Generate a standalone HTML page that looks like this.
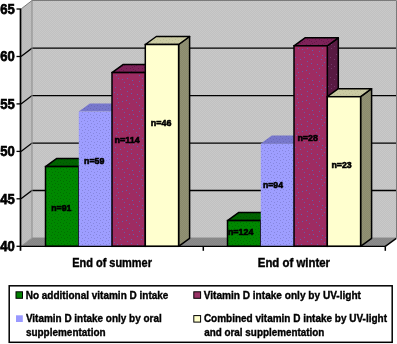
<!DOCTYPE html><html><head><meta charset="utf-8"><style>html,body{margin:0;padding:0;background:#fff;width:397px;height:344px;overflow:hidden}svg{display:block;will-change:transform}text{font-family:"Liberation Sans",sans-serif;font-weight:bold;fill:#000}</style></head><body>
<svg width="397" height="344" viewBox="0 0 397 344"><defs><pattern id="wall" width="2" height="2" patternUnits="userSpaceOnUse"><rect width="2" height="2" fill="#c1c1c1"/><rect x="0" y="0" width="1" height="1" fill="#c9c9c9"/><rect x="1" y="1" width="1" height="1" fill="#c9c9c9"/></pattern><pattern id="swall" width="2" height="2" patternUnits="userSpaceOnUse"><rect width="2" height="2" fill="#b9b9b9"/><rect x="0" y="0" width="1" height="1" fill="#c0c0c0"/><rect x="1" y="1" width="1" height="1" fill="#c0c0c0"/></pattern><pattern id="floor" width="2" height="2" patternUnits="userSpaceOnUse"><rect width="2" height="2" fill="#858585"/><rect x="0" y="0" width="1" height="1" fill="#8c8c8c"/><rect x="1" y="1" width="1" height="1" fill="#8c8c8c"/></pattern><pattern id="pg" width="6" height="6" patternUnits="userSpaceOnUse"><rect width="6" height="6" fill="#008800"/><rect x="0" y="0" width="1" height="1" fill="#007000"/><rect x="3" y="1" width="1" height="1" fill="#007000"/><rect x="1" y="3" width="1" height="1" fill="#007000"/><rect x="4" y="4" width="1" height="1" fill="#007000"/></pattern><pattern id="pgt" width="6" height="6" patternUnits="userSpaceOnUse"><rect width="6" height="6" fill="#006400"/><rect x="0" y="0" width="1" height="1" fill="#005400"/><rect x="3" y="1" width="1" height="1" fill="#005400"/><rect x="1" y="3" width="1" height="1" fill="#005400"/><rect x="4" y="4" width="1" height="1" fill="#005400"/></pattern><pattern id="pr" width="30" height="30" patternUnits="userSpaceOnUse"><rect width="30" height="30" fill="#9e2c62"/><rect x="7" y="18" width="1" height="1" fill="#6060ac"/><rect x="17" y="4" width="1" height="1" fill="#6060ac"/><rect x="11" y="29" width="1" height="1" fill="#6060ac"/><rect x="19" y="15" width="1" height="1" fill="#6060ac"/><rect x="2" y="19" width="1" height="1" fill="#6060ac"/><rect x="0" y="29" width="1" height="1" fill="#6060ac"/><rect x="26" y="15" width="1" height="1" fill="#6060ac"/><rect x="7" y="6" width="1" height="1" fill="#6060ac"/><rect x="17" y="26" width="1" height="1" fill="#6060ac"/><rect x="12" y="20" width="1" height="1" fill="#6060ac"/><rect x="27" y="4" width="1" height="1" fill="#6060ac"/><rect x="4" y="27" width="1" height="1" fill="#6060ac"/><rect x="24" y="2" width="1" height="1" fill="#6060ac"/><rect x="9" y="24" width="1" height="1" fill="#6060ac"/><rect x="27" y="8" width="1" height="1" fill="#6060ac"/><rect x="28" y="12" width="1" height="1" fill="#6060ac"/><rect x="22" y="25" width="1" height="1" fill="#6060ac"/><rect x="11" y="3" width="1" height="1" fill="#6060ac"/><rect x="1" y="4" width="1" height="1" fill="#6060ac"/><rect x="13" y="24" width="1" height="1" fill="#6060ac"/><rect x="9" y="13" width="1" height="1" fill="#6060ac"/><rect x="21" y="29" width="1" height="1" fill="#6060ac"/><rect x="19" y="21" width="1" height="1" fill="#6060ac"/><rect x="22" y="5" width="1" height="1" fill="#6060ac"/><rect x="28" y="18" width="1" height="1" fill="#6060ac"/><rect x="2" y="11" width="1" height="1" fill="#6060ac"/><rect x="22" y="18" width="1" height="1" fill="#6060ac"/><rect x="7" y="1" width="1" height="1" fill="#6060ac"/><rect x="13" y="9" width="1" height="1" fill="#6060ac"/><rect x="19" y="8" width="1" height="1" fill="#6060ac"/><rect x="4" y="22" width="1" height="1" fill="#6060ac"/><rect x="16" y="12" width="1" height="1" fill="#6060ac"/><rect x="6" y="10" width="1" height="1" fill="#6060ac"/><rect x="25" y="27" width="1" height="1" fill="#6060ac"/></pattern><pattern id="prt" width="12" height="12" patternUnits="userSpaceOnUse"><rect width="12" height="12" fill="#7e2259"/><rect x="9" y="4" width="1" height="1" fill="#661a48"/><rect x="11" y="5" width="1" height="1" fill="#661a48"/><rect x="11" y="11" width="1" height="1" fill="#661a48"/><rect x="10" y="8" width="1" height="1" fill="#661a48"/><rect x="0" y="7" width="1" height="1" fill="#661a48"/><rect x="3" y="10" width="1" height="1" fill="#661a48"/><rect x="0" y="2" width="1" height="1" fill="#661a48"/><rect x="7" y="3" width="1" height="1" fill="#661a48"/><rect x="6" y="8" width="1" height="1" fill="#661a48"/><rect x="1" y="9" width="1" height="1" fill="#661a48"/><rect x="2" y="6" width="1" height="1" fill="#661a48"/><rect x="2" y="1" width="1" height="1" fill="#661a48"/><rect x="3" y="3" width="1" height="1" fill="#661a48"/><rect x="4" y="5" width="1" height="1" fill="#661a48"/></pattern><pattern id="prs" width="20" height="20" patternUnits="userSpaceOnUse"><rect width="20" height="20" fill="#581a42"/><rect x="14" y="19" width="1" height="1" fill="#74386a"/><rect x="11" y="8" width="1" height="1" fill="#74386a"/><rect x="4" y="5" width="1" height="1" fill="#74386a"/><rect x="0" y="10" width="1" height="1" fill="#74386a"/><rect x="16" y="14" width="1" height="1" fill="#74386a"/><rect x="19" y="2" width="1" height="1" fill="#74386a"/><rect x="10" y="17" width="1" height="1" fill="#74386a"/><rect x="7" y="1" width="1" height="1" fill="#74386a"/><rect x="8" y="6" width="1" height="1" fill="#74386a"/><rect x="7" y="13" width="1" height="1" fill="#74386a"/><rect x="3" y="19" width="1" height="1" fill="#74386a"/><rect x="18" y="6" width="1" height="1" fill="#74386a"/><rect x="0" y="16" width="1" height="1" fill="#74386a"/><rect x="2" y="13" width="1" height="1" fill="#74386a"/><rect x="11" y="4" width="1" height="1" fill="#74386a"/><rect x="14" y="6" width="1" height="1" fill="#74386a"/></pattern><pattern id="pb" width="6" height="6" patternUnits="userSpaceOnUse"><rect width="6" height="6" fill="#9e9eff"/><rect x="0" y="0" width="1" height="1" fill="#8686de"/><rect x="3" y="1" width="1" height="1" fill="#8686de"/><rect x="1" y="3" width="1" height="1" fill="#8686de"/><rect x="4" y="4" width="1" height="1" fill="#8686de"/></pattern><pattern id="pbt" width="6" height="6" patternUnits="userSpaceOnUse"><rect width="6" height="6" fill="#7878cc"/><rect x="0" y="0" width="1" height="1" fill="#6a6ab6"/><rect x="3" y="1" width="1" height="1" fill="#6a6ab6"/><rect x="1" y="3" width="1" height="1" fill="#6a6ab6"/><rect x="4" y="4" width="1" height="1" fill="#6a6ab6"/></pattern><pattern id="pyt" width="6" height="6" patternUnits="userSpaceOnUse"><rect width="6" height="6" fill="#cbcba3"/><rect x="0" y="0" width="1" height="1" fill="#bcbc96"/><rect x="3" y="1" width="1" height="1" fill="#bcbc96"/><rect x="1" y="3" width="1" height="1" fill="#bcbc96"/><rect x="4" y="4" width="1" height="1" fill="#bcbc96"/></pattern><pattern id="pys" width="2" height="2" patternUnits="userSpaceOnUse"><rect width="2" height="2" fill="#8a8a6b"/><rect x="0" y="0" width="1" height="1" fill="#929276"/><rect x="1" y="1" width="1" height="1" fill="#929276"/></pattern></defs>
<polygon points="32.0,0.5 396.5,0.5 396.5,237.9 32.0,237.9" fill="url(#wall)"/>
<polygon points="21.0,9.0 32.0,0.5 32.0,237.9 21.0,246.3" fill="url(#swall)"/>
<polygon points="21.0,246.3 32.0,237.9 396.5,237.9 385.5,246.3" fill="url(#floor)"/>
<polyline points="21.0,198.8 32.0,190.5 396.0,190.5" fill="none" stroke="#000" stroke-width="1.3"/>
<polyline points="21.0,151.4 32.0,143.1 396.0,143.1" fill="none" stroke="#000" stroke-width="1.3"/>
<polyline points="21.0,103.9 32.0,95.6 396.0,95.6" fill="none" stroke="#000" stroke-width="1.3"/>
<polyline points="21.0,56.5 32.0,48.2 396.0,48.2" fill="none" stroke="#000" stroke-width="1.3"/>
<polyline points="21.0,9.0 32.0,0.5 396.5,0.5 396.5,237.9" fill="none" stroke="#7a7a7a" stroke-width="1"/>
<line x1="32" y1="0.5" x2="32" y2="237.9" stroke="#8a8a8a" stroke-width="1"/>
<polyline points="21.0,246.3 32.0,237.9 396.5,237.9" fill="none" stroke="#8a8a8a" stroke-width="0.8"/>
<polygon points="78.8,166.6 89.8,158.6 89.8,238.3 78.8,246.3" fill="#004000" stroke="#000" stroke-width="1.5" stroke-linejoin="round"/>
<polygon points="45.5,166.6 56.5,158.6 89.8,158.6 78.8,166.6" fill="url(#pgt)" stroke="#000" stroke-width="1.5" stroke-linejoin="round"/>
<rect x="45.5" y="166.6" width="33.3" height="79.7" fill="url(#pg)" stroke="#000" stroke-width="1.5"/>
<polygon points="112.0,111.6 123.0,103.6 123.0,238.3 112.0,246.3" fill="#5c5c99" stroke="none" stroke-width="0" stroke-linejoin="round"/>
<polygon points="78.8,111.6 89.8,103.6 123.0,103.6 112.0,111.6" fill="url(#pbt)" stroke="none" stroke-width="0" stroke-linejoin="round"/>
<rect x="78.8" y="111.6" width="33.2" height="134.7" fill="url(#pb)" stroke="none" stroke-width="0"/>
<polygon points="145.3,72.6 156.3,64.6 156.3,238.3 145.3,246.3" fill="url(#prs)" stroke="#000" stroke-width="1.5" stroke-linejoin="round"/>
<polygon points="112.0,72.6 123.0,64.6 156.3,64.6 145.3,72.6" fill="url(#prt)" stroke="#000" stroke-width="1.5" stroke-linejoin="round"/>
<rect x="112.0" y="72.6" width="33.3" height="173.7" fill="url(#pr)" stroke="#000" stroke-width="1.5"/>
<polygon points="178.6,44.5 189.6,36.5 189.6,238.3 178.6,246.3" fill="url(#pys)" stroke="#000" stroke-width="1.5" stroke-linejoin="round"/>
<polygon points="145.3,44.5 156.3,36.5 189.6,36.5 178.6,44.5" fill="url(#pyt)" stroke="#000" stroke-width="1.5" stroke-linejoin="round"/>
<rect x="145.3" y="44.5" width="33.3" height="201.8" fill="#ffffcf" stroke="#000" stroke-width="1.5"/>
<polygon points="260.8,220.6 271.8,212.6 271.8,238.3 260.8,246.3" fill="#004000" stroke="#000" stroke-width="1.5" stroke-linejoin="round"/>
<polygon points="227.5,220.6 238.5,212.6 271.8,212.6 260.8,220.6" fill="url(#pgt)" stroke="#000" stroke-width="1.5" stroke-linejoin="round"/>
<rect x="227.5" y="220.6" width="33.3" height="25.7" fill="url(#pg)" stroke="#000" stroke-width="1.5"/>
<polygon points="294.0,143.4 305.0,135.4 305.0,238.3 294.0,246.3" fill="#5c5c99" stroke="none" stroke-width="0" stroke-linejoin="round"/>
<polygon points="260.8,143.4 271.8,135.4 305.0,135.4 294.0,143.4" fill="url(#pbt)" stroke="none" stroke-width="0" stroke-linejoin="round"/>
<rect x="260.8" y="143.4" width="33.2" height="102.9" fill="url(#pb)" stroke="none" stroke-width="0"/>
<polygon points="327.3,45.8 338.3,37.8 338.3,238.3 327.3,246.3" fill="url(#prs)" stroke="#000" stroke-width="1.5" stroke-linejoin="round"/>
<polygon points="294.0,45.8 305.0,37.8 338.3,37.8 327.3,45.8" fill="url(#prt)" stroke="#000" stroke-width="1.5" stroke-linejoin="round"/>
<rect x="294.0" y="45.8" width="33.3" height="200.5" fill="url(#pr)" stroke="#000" stroke-width="1.5"/>
<polygon points="360.6,96.7 371.6,88.7 371.6,238.3 360.6,246.3" fill="url(#pys)" stroke="#000" stroke-width="1.5" stroke-linejoin="round"/>
<polygon points="327.3,96.7 338.3,88.7 371.6,88.7 360.6,96.7" fill="url(#pyt)" stroke="#000" stroke-width="1.5" stroke-linejoin="round"/>
<rect x="327.3" y="96.7" width="33.3" height="149.6" fill="#ffffcf" stroke="#000" stroke-width="1.5"/>
<line x1="20.5" y1="9.0" x2="20.5" y2="250.8" stroke="#000" stroke-width="1.7"/>
<line x1="21" y1="246.4" x2="385.5" y2="246.4" stroke="#000" stroke-width="1.3"/>
<line x1="385.3" y1="246.4" x2="396.3" y2="238.4" stroke="#000" stroke-width="1.3"/>
<line x1="16.5" y1="246.3" x2="21" y2="246.3" stroke="#000" stroke-width="1.3"/>
<text x="14.7" y="251.2" font-size="15" text-anchor="end" stroke="#000" stroke-width="0.75" textLength="14.5" lengthAdjust="spacingAndGlyphs">40</text>
<line x1="16.5" y1="198.8" x2="21" y2="198.8" stroke="#000" stroke-width="1.3"/>
<text x="14.7" y="203.7" font-size="15" text-anchor="end" stroke="#000" stroke-width="0.75" textLength="14.5" lengthAdjust="spacingAndGlyphs">45</text>
<line x1="16.5" y1="151.4" x2="21" y2="151.4" stroke="#000" stroke-width="1.3"/>
<text x="14.7" y="156.3" font-size="15" text-anchor="end" stroke="#000" stroke-width="0.75" textLength="14.5" lengthAdjust="spacingAndGlyphs">50</text>
<line x1="16.5" y1="103.9" x2="21" y2="103.9" stroke="#000" stroke-width="1.3"/>
<text x="14.7" y="108.8" font-size="15" text-anchor="end" stroke="#000" stroke-width="0.75" textLength="14.5" lengthAdjust="spacingAndGlyphs">55</text>
<line x1="16.5" y1="56.5" x2="21" y2="56.5" stroke="#000" stroke-width="1.3"/>
<text x="14.7" y="61.4" font-size="15" text-anchor="end" stroke="#000" stroke-width="0.75" textLength="14.5" lengthAdjust="spacingAndGlyphs">60</text>
<line x1="16.5" y1="9.0" x2="21" y2="9.0" stroke="#000" stroke-width="1.3"/>
<text x="14.7" y="13.9" font-size="15" text-anchor="end" stroke="#000" stroke-width="0.75" textLength="14.5" lengthAdjust="spacingAndGlyphs">65</text>
<line x1="203.3" y1="246.3" x2="203.3" y2="250.8" stroke="#000" stroke-width="1.5"/>
<line x1="385.3" y1="246.3" x2="385.3" y2="250.8" stroke="#000" stroke-width="1.5"/>
<text x="51.2" y="211.1" font-size="9.4" stroke="#000" stroke-width="0.6" textLength="20.2" lengthAdjust="spacingAndGlyphs">n=91</text>
<text x="84.0" y="163.6" font-size="9.4" stroke="#000" stroke-width="0.6" textLength="20.4" lengthAdjust="spacingAndGlyphs">n=59</text>
<text x="114.5" y="142.6" font-size="9.4" stroke="#000" stroke-width="0.6" textLength="25.2" lengthAdjust="spacingAndGlyphs">n=114</text>
<text x="150.8" y="126.0" font-size="9.4" stroke="#000" stroke-width="0.6" textLength="20.6" lengthAdjust="spacingAndGlyphs">n=46</text>
<text x="227.9" y="234.5" font-size="9.4" stroke="#000" stroke-width="0.6" textLength="25.5" lengthAdjust="spacingAndGlyphs">n=124</text>
<text x="263.0" y="187.6" font-size="9.4" stroke="#000" stroke-width="0.6" textLength="20.0" lengthAdjust="spacingAndGlyphs">n=94</text>
<text x="297.4" y="140.6" font-size="9.4" stroke="#000" stroke-width="0.6" textLength="20.5" lengthAdjust="spacingAndGlyphs">n=28</text>
<text x="331.5" y="167.9" font-size="9.4" stroke="#000" stroke-width="0.6" textLength="20.2" lengthAdjust="spacingAndGlyphs">n=23</text>
<text x="72.2" y="266.5" font-size="12.2" stroke="#000" stroke-width="0.4" textLength="79.8" lengthAdjust="spacingAndGlyphs">End of summer</text>
<text x="257.8" y="266.5" font-size="12.2" stroke="#000" stroke-width="0.4" textLength="72.2" lengthAdjust="spacingAndGlyphs">End of winter</text>
<rect x="9.2" y="285.8" width="383" height="56.5" fill="#fff" stroke="#000" stroke-width="1.5"/>
<rect x="16" y="291.8" width="6.5" height="6.5" fill="#008000" stroke="#000" stroke-width="1"/>
<rect x="16" y="315.3" width="6.8" height="6.7" fill="#9999ff"/>
<rect x="193.8" y="291.8" width="6.8" height="6.5" fill="#993366" stroke="#000" stroke-width="1"/>
<rect x="193.8" y="315.6" width="6.8" height="6.5" fill="#ffffcc" stroke="#000" stroke-width="1"/>
<text x="25.7" y="298.8" font-size="10.2" stroke="#000" stroke-width="0.35" textLength="142.7" lengthAdjust="spacingAndGlyphs">No additional vitamin D intake</text>
<text x="25.9" y="322.4" font-size="10.2" stroke="#000" stroke-width="0.35" textLength="135.8" lengthAdjust="spacingAndGlyphs">Vitamin D intake only by oral</text>
<text x="25.9" y="335.9" font-size="10.2" stroke="#000" stroke-width="0.35" textLength="79.7" lengthAdjust="spacingAndGlyphs">supplementation</text>
<text x="203.7" y="298.8" font-size="10.2" stroke="#000" stroke-width="0.35" textLength="157.3" lengthAdjust="spacingAndGlyphs">Vitamin D intake only by UV-light</text>
<text x="203.9" y="322.4" font-size="10.2" stroke="#000" stroke-width="0.35" textLength="183.1" lengthAdjust="spacingAndGlyphs">Combined vitamin D intake by UV-light</text>
<text x="204.2" y="335.9" font-size="10.2" stroke="#000" stroke-width="0.35" textLength="120.2" lengthAdjust="spacingAndGlyphs">and oral supplementation</text>
</svg></body></html>
